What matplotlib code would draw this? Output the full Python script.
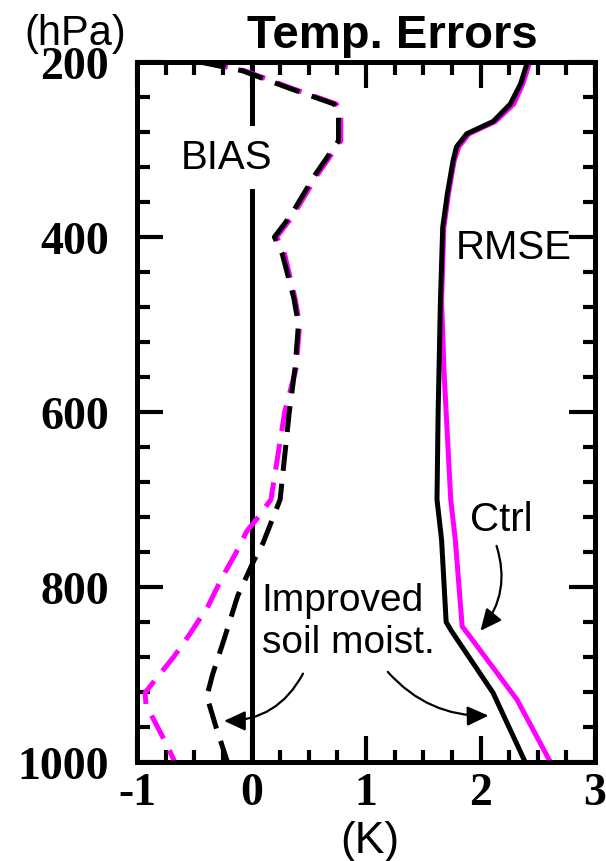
import numpy as np
import matplotlib.pyplot as plt
from matplotlib.ticker import MultipleLocator

# pressure levels (hPa) and temperature errors (K)
p_bias_imp = [200, 210, 230, 248, 255, 290, 330, 376, 400, 420, 470, 500, 550, 600,
              650, 700, 720, 750, 770, 810, 860, 900, 925, 960, 1000]
bias_imp = [-0.45, -0.08, 0.33, 0.72, 0.76, 0.76, 0.55, 0.34, 0.20, 0.27, 0.37, 0.41,
            0.38, 0.33, 0.29, 0.25, 0.19, 0.10, 0.02, -0.12, -0.24, -0.34, -0.39, -0.31, -0.21]

p_bias_ctrl = [200, 210, 230, 248, 255, 290, 330, 376, 400, 420, 470, 500, 550, 600,
               650, 700, 720, 736, 762, 790, 822, 854, 880, 906, 921, 936, 950, 983, 1000]
bias_ctrl = [-0.43, -0.06, 0.35, 0.74, 0.78, 0.78, 0.57, 0.36, 0.22, 0.29, 0.38, 0.42,
             0.39, 0.29, 0.23, 0.17, 0.06, -0.04, -0.14, -0.26, -0.38, -0.54, -0.68,
             -0.84, -0.93, -0.92, -0.86, -0.73, -0.67]

p_rmse_imp = [200, 225, 248, 268, 282, 297, 313, 351, 389, 473, 600, 700, 746, 840,
              851, 921, 1000]
rmse_imp = [2.41, 2.35, 2.26, 2.11, 1.88, 1.79, 1.76, 1.71, 1.67, 1.65, 1.63, 1.62,
            1.66, 1.70, 1.75, 2.11, 2.39]

p_rmse_ctrl = [200, 225, 248, 268, 282, 297, 313, 351, 389, 473, 550, 600, 650, 700,
               746, 845, 857, 929, 1000]
rmse_ctrl = [2.43, 2.37, 2.29, 2.13, 1.90, 1.81, 1.77, 1.72, 1.68, 1.66, 1.68, 1.70,
             1.72, 1.74, 1.78, 1.84, 1.91, 2.32, 2.61]

xticks = [-1, 0, 1, 2, 3]
xticklabels = ['-1', '0', '1', '2', '3']
yticks = [200, 400, 600, 800, 1000]

sans = 'Liberation Sans'
serif = 'Liberation Serif'
magenta = '#ff00ff'

fig = plt.figure(figsize=(6.06, 8.62), dpi=100)
ax = fig.add_axes([137 / 606, 1 - 763 / 862, (595 - 137) / 606, (763 - 63) / 862])

ax.axvline(0, color='black', lw=3.6, zorder=1)

ax.plot(bias_ctrl, p_bias_ctrl, color=magenta, lw=3.6, dashes=(5.2, 2.6), zorder=2)
ax.plot(bias_imp, p_bias_imp, color='black', lw=3.6, dashes=(5.2, 2.6), zorder=3)
ax.plot(rmse_ctrl, p_rmse_ctrl, color=magenta, lw=3.6, zorder=2)
ax.plot(rmse_imp, p_rmse_imp, color='black', lw=3.6, zorder=3)

ax.set_xlim(-1, 3)
ax.set_ylim(1000, 200)
ax.set_xticks(xticks)
ax.set_xticklabels(xticklabels)
ax.set_yticks(yticks)
ax.xaxis.set_minor_locator(MultipleLocator(0.25))
ax.yaxis.set_minor_locator(MultipleLocator(40))
ax.tick_params(which='both', direction='in', top=True, right=True, width=3, color='black')
ax.tick_params(which='major', length=19)
ax.tick_params(which='minor', length=9)
ax.tick_params(axis='y', which='major', pad=20)
ax.tick_params(axis='x', which='major', pad=7)
for lab in ax.get_xticklabels() + ax.get_yticklabels():
    lab.set_fontfamily(serif)
    lab.set_fontweight('bold')
    lab.set_fontsize(33)
for s in ax.spines.values():
    s.set_linewidth(3.6)

# labels
ax.text(-0.22, 309, 'BIAS', family=sans, fontsize=29, ha='center', va='center',
        zorder=5, bbox=dict(facecolor='white', edgecolor='none', pad=9))
ax.text(2.29, 411, 'RMSE', family=sans, fontsize=29, ha='center', va='center', zorder=5)
ax.text(2.18, 722, 'Ctrl', family=sans, fontsize=29, ha='center', va='center', zorder=5)
ax.text(0.09, 839, 'Improved\nsoil moist.', family=sans, fontsize=28, ha='left',
        va='center', linespacing=1.2, zorder=5)

arrow = dict(arrowstyle='-|>,head_length=0.65,head_width=0.3', color='black', lw=1.6,
             mutation_scale=20, shrinkA=0, shrinkB=0)
ax.annotate('', xy=(-0.24, 953), xytext=(0.45, 899),
            arrowprops=dict(arrow, connectionstyle='arc3,rad=-0.3'))
ax.annotate('', xy=(2.07, 947), xytext=(1.19, 897),
            arrowprops=dict(arrow, connectionstyle='arc3,rad=0.23'))
ax.annotate('', xy=(2.0, 850), xytext=(2.14, 753),
            arrowprops=dict(arrow, connectionstyle='arc3,rad=-0.27'))

fig.text(392 / 606, 1 - 48 / 862, 'Temp. Errors', family=sans, fontweight='bold',
         fontsize=34, ha='center', va='baseline')
fig.text(75 / 606, 1 - 45 / 862, '(hPa)', family=sans, fontsize=30, ha='center',
         va='baseline')
fig.text(370 / 606, 1 - 853 / 862, '(K)', family=sans, fontsize=32, ha='center',
         va='baseline')

fig.savefig('out.png', dpi=100)
